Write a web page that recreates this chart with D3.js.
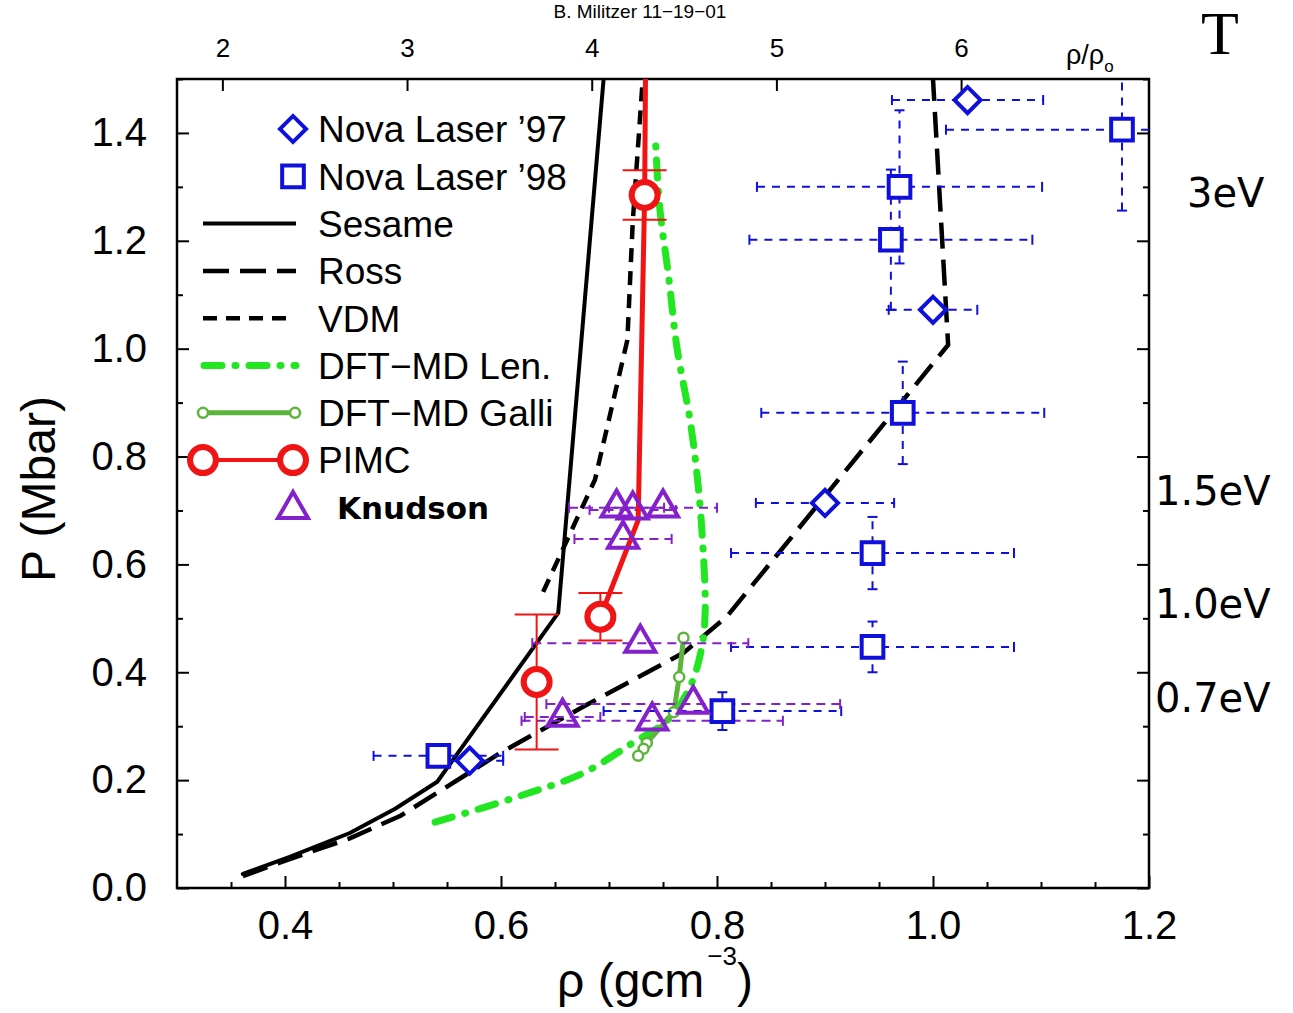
<!DOCTYPE html>
<html>
<head>
<meta charset="utf-8">
<title>Deuterium Hugoniot</title>
<script src="https://d3js.org/d3.v7.min.js"></script>
<style>
  body { margin: 0; background: #fff; }
  svg text { font-family: "Liberation Sans", Arial, sans-serif; fill: #000; }
</style>
</head>
<body>
<div id="chart"></div>
<script>
var W = 1293, H = 1013;
var rho0 = 0.171;

// ticks
var xMajor = [0.4, 0.6, 0.8, 1.0, 1.2];
var xMinor = d3.range(7, 24).map(function(i) { return i * 0.05; }).filter(function(v) { return Math.abs(v * 5 - Math.round(v * 5)) > 1e-6; });
var yMajor = [0, 0.2, 0.4, 0.6, 0.8, 1.0, 1.2, 1.4];
var yMinor = [0.1, 0.3, 0.5, 0.7, 0.9, 1.1, 1.3, 1.5];
var topTicks = [2, 3, 4, 5, 6];

// Nova laser '97: rho, P, dRho
var nova97 = [[1.032, 1.461, 0.070], [1.000, 1.072, 0.041], [0.900, 0.714, 0.064], [0.571, 0.236, 0.031]];
// Nova laser '98: rho, P, dRho, dP
var nova98 = [[1.175, 1.406, 0.163, 0.150], [0.969, 1.300, 0.132, 0.142], [0.961, 1.202, 0.131, 0.130],
              [0.972, 0.881, 0.131, 0.095], [0.944, 0.621, 0.131, 0.067], [0.944, 0.447, 0.131, 0.047],
              [0.805, 0.328, 0.110, 0.035], [0.542, 0.245, 0.060, 0.020]];
// Knudson: rho, P, dRho
var knudson = [[0.707, 0.705, 0.044], [0.722, 0.701, 0.040], [0.750, 0.705, 0.050], [0.713, 0.647, 0.045],
               [0.729, 0.454, 0.100], [0.657, 0.317, 0.035], [0.740, 0.310, 0.121], [0.778, 0.341, 0.136]];
// PIMC
var pimcLine = [[0.734, 1.56], [0.733, 1.285], [0.727, 0.682], [0.692, 0.503]];
var pimcPts = [[0.733, 1.285, 0.046], [0.692, 0.503, 0.044], [0.633, 0.382, 0.125]];
// model curves: rho, P
var sesame = [[0.361, 0.026], [0.405, 0.058], [0.460, 0.102], [0.502, 0.147], [0.541, 0.197], [0.653, 0.510], [0.695, 1.500], [0.700, 1.560]];
var ross = [[0.361, 0.022], [0.405, 0.054], [0.460, 0.092], [0.507, 0.134], [0.562, 0.203], [0.599, 0.250], [0.676, 0.336],
            [0.769, 0.436], [0.809, 0.503], [1.014, 1.007], [1.000, 1.500], [0.998, 1.560]];
var vdm = [[0.639, 0.549], [0.687, 0.757], [0.717, 1.016], [0.722, 1.235], [0.731, 1.493], [0.732, 1.560]];
var dftLen = [[0.539, 0.122], [0.615, 0.169], [0.676, 0.213], [0.722, 0.269], [0.754, 0.311], [0.775, 0.373], [0.786, 0.447],
              [0.789, 0.510], [0.787, 0.632], [0.782, 0.757], [0.775, 0.868], [0.763, 1.001], [0.755, 1.137], [0.747, 1.261], [0.743, 1.387]];
var dftGalli = [[0.769, 0.464], [0.765, 0.391], [0.760, 0.326], [0.735, 0.269], [0.732, 0.258], [0.727, 0.245]];

var legendLabels = ["Nova Laser \u201997", "Nova Laser \u201998", "Sesame", "Ross", "VDM", "DFT\u2212MD Len.", "DFT\u2212MD Galli", "PIMC", "Knudson"];
var tempLabels = ["3eV", "1.5eV", "1.0eV", "0.7eV"];

var BLUE = "#1010dc", PURPLE = "#8420cc", RED = "#f01414", GREEN = "#22e622", GALLI = "#5cb43c";

var svg = d3.select("#chart").append("svg").attr("width", W).attr("height", H);

var x = d3.scaleLinear().domain([0.3, 1.2]).range([177, 1149]);
var y = d3.scaleLinear().domain([0, 1.5]).range([888, 79]);
var xr = d3.scaleLinear().domain([0.3 / rho0, 1.2 / rho0]).range([177, 1149]);

function styleAxis(g, size) {
  g.attr("font-family", "Liberation Sans, Arial, sans-serif").attr("font-size", size);
  g.select(".domain").remove();
  g.selectAll(".tick line").attr("stroke", "#000").attr("stroke-width", 2);
}

// axes
svg.append("g").attr("transform", "translate(0,888)")
  .call(d3.axisBottom(x).tickValues(xMajor).tickFormat(d3.format(".1f")).tickSize(-12).tickPadding(23))
  .call(styleAxis, 40);
svg.append("g").attr("transform", "translate(0,888)")
  .call(d3.axisBottom(x).tickValues(xMinor).tickFormat("").tickSize(-6))
  .call(styleAxis, 10);
svg.append("g").attr("transform", "translate(177,0)")
  .call(d3.axisLeft(y).tickValues(yMajor).tickFormat(d3.format(".1f")).tickSize(-12).tickPadding(30))
  .call(styleAxis, 40);
svg.append("g").attr("transform", "translate(177,0)")
  .call(d3.axisLeft(y).tickValues(yMinor).tickFormat("").tickSize(-6))
  .call(styleAxis, 10);
svg.append("g").attr("transform", "translate(1149,0)")
  .call(d3.axisRight(y).tickValues(yMajor).tickFormat("").tickSize(-12))
  .call(styleAxis, 10);
svg.append("g").attr("transform", "translate(1149,0)")
  .call(d3.axisRight(y).tickValues(yMinor).tickFormat("").tickSize(-6))
  .call(styleAxis, 10);
svg.append("g").attr("transform", "translate(0,79)")
  .call(d3.axisTop(xr).tickValues(topTicks).tickFormat(d3.format("d")).tickSize(-12).tickPadding(22))
  .call(styleAxis, 26);

svg.append("rect").attr("x", 177).attr("y", 79).attr("width", 972).attr("height", 809)
  .attr("fill", "none").attr("stroke", "#000").attr("stroke-width", 2.5);

// data layer
svg.append("clipPath").attr("id", "clip").append("rect")
  .attr("x", 177).attr("y", 79).attr("width", 972).attr("height", 809);
var plot = svg.append("g").attr("clip-path", "url(#clip)");

var line = d3.line().x(function(d) { return x(d[0]); }).y(function(d) { return y(d[1]); });
var smooth = d3.line().x(function(d) { return x(d[0]); }).y(function(d) { return y(d[1]); }).curve(d3.curveCatmullRom);

plot.append("path").attr("d", line(sesame)).attr("fill", "none").attr("stroke", "#000").attr("stroke-width", 4)
  .attr("stroke-linejoin", "round").attr("stroke-linecap", "round");
plot.append("path").attr("d", line(ross)).attr("fill", "none").attr("stroke", "#000").attr("stroke-width", 4.5)
  .attr("stroke-dasharray", "26,11");
plot.append("path").attr("d", line(vdm)).attr("fill", "none").attr("stroke", "#000").attr("stroke-width", 4.5)
  .attr("stroke-dasharray", "14,9");
plot.append("path").attr("d", smooth(dftLen)).attr("fill", "none").attr("stroke", GREEN).attr("stroke-width", 7)
  .attr("stroke-linecap", "round").attr("stroke-dasharray", "18,13,1,13");
plot.append("path").attr("d", line(dftGalli)).attr("fill", "none").attr("stroke", GALLI).attr("stroke-width", 5);
plot.selectAll(".galli").data(dftGalli).enter().append("circle")
  .attr("cx", function(d) { return x(d[0]); }).attr("cy", function(d) { return y(d[1]); }).attr("r", 5)
  .attr("fill", "#fff").attr("stroke", GALLI).attr("stroke-width", 2.5);

// error bars
function hErr(g, data, color, dash) {
  data.forEach(function(d) {
    var x0 = x(d[0] - d[2]), x1 = x(d[0] + d[2]), yy = y(d[1]);
    g.append("line").attr("x1", x0).attr("x2", x1).attr("y1", yy).attr("y2", yy)
      .attr("stroke", color).attr("stroke-width", 2).attr("stroke-dasharray", dash);
    [x0, x1].forEach(function(xx) {
      g.append("line").attr("x1", xx).attr("x2", xx).attr("y1", yy - 5).attr("y2", yy + 5)
        .attr("stroke", color).attr("stroke-width", 2);
    });
  });
}
function vErr(g, data, color, dash, capW) {
  data.forEach(function(d) {
    var xx = x(d[0]), y0 = y(d[1] - d[3]), y1 = y(d[1] + d[3]);
    g.append("line").attr("x1", xx).attr("x2", xx).attr("y1", y0).attr("y2", y1)
      .attr("stroke", color).attr("stroke-width", 2).attr("stroke-dasharray", dash);
    [y0, y1].forEach(function(yy) {
      g.append("line").attr("x1", xx - capW).attr("x2", xx + capW).attr("y1", yy).attr("y2", yy)
        .attr("stroke", color).attr("stroke-width", 2);
    });
  });
}
hErr(plot, nova97, BLUE, "8,7");
hErr(plot, nova98, BLUE, "8,7");
vErr(plot, nova98, BLUE, "8,7", 5);
hErr(plot, knudson, PURPLE, "9,6");
vErr(plot, pimcPts.map(function(d) { return [d[0], d[1], 0, d[2]]; }), RED, null, 22);

// PIMC
plot.append("path").attr("d", line(pimcLine)).attr("fill", "none").attr("stroke", RED).attr("stroke-width", 5);
plot.selectAll(".pimc").data(pimcPts).enter().append("circle")
  .attr("cx", function(d) { return x(d[0]); }).attr("cy", function(d) { return y(d[1]); }).attr("r", 13)
  .attr("fill", "#fff").attr("stroke", RED).attr("stroke-width", 6);

// markers
var sq = d3.symbol().type(d3.symbolSquare).size(470);
var dia = d3.symbol().type(d3.symbolSquare).size(340);
var tri = d3.symbol().type(d3.symbolTriangle).size(390);

plot.selectAll(".n98").data(nova98).enter().append("path").attr("d", sq)
  .attr("transform", function(d) { return "translate(" + x(d[0]) + "," + y(d[1]) + ")"; })
  .attr("fill", "#fff").attr("stroke", BLUE).attr("stroke-width", 4);
plot.selectAll(".n97").data(nova97).enter().append("path").attr("d", dia)
  .attr("transform", function(d) { return "translate(" + x(d[0]) + "," + y(d[1]) + ") rotate(45)"; })
  .attr("fill", "#fff").attr("stroke", BLUE).attr("stroke-width", 4);
plot.selectAll(".knud").data(knudson).enter().append("path").attr("d", tri)
  .attr("transform", function(d) { return "translate(" + x(d[0]) + "," + y(d[1]) + ")"; })
  .attr("fill", "none").attr("stroke", PURPLE).attr("stroke-width", 4);

// legend
var lg = svg.append("g");
var rowY = function(i) { return 129 + i * 47.3; };
lg.append("path").attr("d", dia).attr("transform", "translate(293," + rowY(0) + ") rotate(45)")
  .attr("fill", "#fff").attr("stroke", BLUE).attr("stroke-width", 4);
lg.append("path").attr("d", sq).attr("transform", "translate(293," + rowY(1) + ")")
  .attr("fill", "#fff").attr("stroke", BLUE).attr("stroke-width", 4);
lg.append("line").attr("x1", 203).attr("x2", 296).attr("y1", rowY(2)).attr("y2", rowY(2))
  .attr("stroke", "#000").attr("stroke-width", 4);
lg.append("line").attr("x1", 203).attr("x2", 296).attr("y1", rowY(3)).attr("y2", rowY(3))
  .attr("stroke", "#000").attr("stroke-width", 4.5).attr("stroke-dasharray", "26,11");
lg.append("line").attr("x1", 203).attr("x2", 290).attr("y1", rowY(4)).attr("y2", rowY(4))
  .attr("stroke", "#000").attr("stroke-width", 4.5).attr("stroke-dasharray", "14,9");
lg.append("line").attr("x1", 204).attr("x2", 296).attr("y1", rowY(5)).attr("y2", rowY(5))
  .attr("stroke", GREEN).attr("stroke-width", 7).attr("stroke-linecap", "round").attr("stroke-dasharray", "18,13,1,13");
lg.append("line").attr("x1", 203).attr("x2", 295).attr("y1", rowY(6)).attr("y2", rowY(6))
  .attr("stroke", GALLI).attr("stroke-width", 5);
[203, 295].forEach(function(cx) {
  lg.append("circle").attr("cx", cx).attr("cy", rowY(6)).attr("r", 5)
    .attr("fill", "#fff").attr("stroke", GALLI).attr("stroke-width", 2.5);
});
lg.append("line").attr("x1", 203).attr("x2", 293).attr("y1", rowY(7)).attr("y2", rowY(7))
  .attr("stroke", RED).attr("stroke-width", 4);
[203, 293].forEach(function(cx) {
  lg.append("circle").attr("cx", cx).attr("cy", rowY(7)).attr("r", 13)
    .attr("fill", "#fff").attr("stroke", RED).attr("stroke-width", 6);
});
lg.append("path").attr("d", tri).attr("transform", "translate(293," + (rowY(8) + 2) + ")")
  .attr("fill", "none").attr("stroke", PURPLE).attr("stroke-width", 4);

legendLabels.forEach(function(t, i) {
  var txt = lg.append("text").attr("x", i === 8 ? 337 : 318).attr("y", rowY(i)).attr("dy", "0.36em").text(t);
  if (i === 8) txt.style("font-family", "DejaVu Sans, sans-serif").attr("font-weight", "bold").attr("font-size", 31);
  else txt.attr("font-size", 37);
});

// axis titles
svg.append("text").attr("transform", "translate(55,489) rotate(-90)").attr("text-anchor", "middle")
  .attr("font-size", 48).text("P (Mbar)");
var xt = svg.append("text").attr("x", 655).attr("y", 997).attr("text-anchor", "middle").attr("font-size", 48);
xt.append("tspan").text("\u03c1 (gcm");
xt.append("tspan").attr("dx", 3).attr("dy", -32).attr("font-size", 26).text("\u22123");
xt.append("tspan").attr("dy", 32).text(")");

// top labels
var rt = svg.append("text").attr("x", 1066).attr("y", 64).attr("font-size", 27);
rt.append("tspan").text("\u03c1/\u03c1");
rt.append("tspan").attr("dy", 8).attr("font-size", 17).text("o");
svg.append("text").attr("x", 640).attr("y", 18).attr("text-anchor", "middle").attr("font-size", 19)
  .text("B. Militzer 11\u221219\u221201");

// temperature annotations
svg.append("text").attr("x", 1220).attr("y", 54).attr("text-anchor", "middle")
  .style("font-family", "Liberation Serif, serif").attr("font-size", 62).text("T");
var tempY = [207, 505, 618, 712];
var tempX = [1187, 1155, 1155, 1155];
tempLabels.forEach(function(t, i) {
  svg.append("text").attr("x", tempX[i]).attr("y", tempY[i])
    .style("font-family", "DejaVu Sans, sans-serif").attr("font-size", 40).text(t);
});
</script>
</body>
</html>
